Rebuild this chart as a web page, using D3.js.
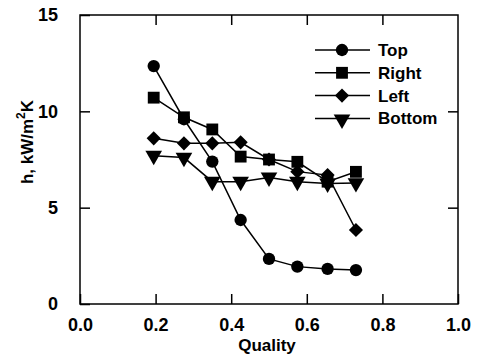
<!DOCTYPE html>
<html>
<head>
<meta charset="utf-8">
<script src="https://cdn.jsdelivr.net/npm/d3@7"></script>
<style>
  body { margin: 0; background: #fff; }
  text { font-family: "Liberation Sans", Arial, Helvetica, sans-serif; font-weight: bold; fill: #000; }
</style>
</head>
<body>
<div id="chart"></div>
<script>
"use strict";

// quality values shared by all series
var quality = [0.195, 0.275, 0.35, 0.425, 0.50, 0.575, 0.655, 0.73];

// heat transfer coefficient, kW/m2K
var topVals    = [12.35, 9.59, 7.39, 4.36, 2.34, 1.94, 1.82, 1.76];
var rightVals  = [10.71, 9.69, 9.06, 7.65, 7.5, 7.38, 6.35, 6.86];
var leftVals   = [8.6, 8.34, 8.34, 8.39, 7.5, 6.87, 6.69, 3.84];
var bottomVals = [7.7, 7.6, 6.35, 6.35, 6.57, 6.35, 6.26, 6.28];

var seriesNames = ["Top", "Right", "Left", "Bottom"];
var xTicks = [0.0, 0.2, 0.4, 0.6, 0.8, 1.0];
var yTicks = [0, 5, 10, 15];

var W = 479, H = 359;
var margin = {top: 15, right: 21, bottom: 55, left: 80};
var width = W - margin.left - margin.right;
var height = H - margin.top - margin.bottom;

var svg = d3.select("#chart").append("svg")
    .attr("width", W)
    .attr("height", H);

var g = svg.append("g")
    .attr("transform", "translate(" + margin.left + "," + margin.top + ")");

var x = d3.scaleLinear().domain([0, 1]).range([0, width]);
var y = d3.scaleLinear().domain([0, 15]).range([height, 0]);

// frame
g.append("rect")
    .attr("width", width)
    .attr("height", height)
    .attr("fill", "none")
    .attr("stroke", "#000")
    .attr("stroke-width", 1.5);

// ticks, inward on all four sides
var tickLen = 10;
function styleAxis(sel) {
  sel.select(".domain").remove();
  sel.selectAll(".tick line").attr("stroke", "#000").attr("stroke-width", 1.5);
  sel.selectAll("text").style("font-size", "18px");
}

g.append("g")
    .attr("transform", "translate(0," + height + ")")
    .call(d3.axisBottom(x).tickValues(xTicks).tickFormat(d3.format(".1f"))
      .tickSizeInner(-tickLen).tickPadding(tickLen + 4))
    .call(styleAxis);

g.append("g")
    .call(d3.axisLeft(y).tickValues(yTicks).tickFormat(d3.format("d"))
      .tickSizeInner(-tickLen).tickPadding(tickLen + 12))
    .call(styleAxis);

g.append("g")
    .call(d3.axisTop(x).tickValues(xTicks.slice(1, -1)).tickFormat("")
      .tickSizeInner(-tickLen))
    .call(styleAxis);

g.append("g")
    .attr("transform", "translate(" + width + ",0)")
    .call(d3.axisRight(y).tickValues(yTicks.slice(1, -1)).tickFormat("")
      .tickSizeInner(-tickLen))
    .call(styleAxis);

// axis titles
svg.append("text")
    .attr("x", margin.left + x(0.5) - 2)
    .attr("y", 351)
    .attr("text-anchor", "middle")
    .style("font-size", "17px")
    .text("Quality");

var ylab = svg.append("text")
    .attr("transform", "translate(33,142) rotate(-90)")
    .attr("text-anchor", "middle")
    .style("font-size", "17px");
ylab.append("tspan").text("h, kW/m");
ylab.append("tspan").attr("dy", -8).style("font-size", "12px").text("2");
ylab.append("tspan").attr("dy", 8).text("K");

// series
var series = [
  {name: seriesNames[0], values: topVals, sym: d3.symbolCircle, size: 120, rot: 0},
  {name: seriesNames[1], values: rightVals, sym: d3.symbolSquare, size: 140, rot: 0},
  {name: seriesNames[2], values: leftVals, sym: d3.symbolSquare, size: 100, rot: 45},
  {name: seriesNames[3], values: bottomVals, sym: d3.symbolTriangle, size: 120, rot: 180}
];

var line = d3.line()
    .x(function(d, i) { return x(quality[i]); })
    .y(function(d) { return y(d); });

function symbolPath(s) {
  return d3.symbol().type(s.sym).size(s.size)();
}

series.forEach(function(s) {
  g.append("path")
      .attr("d", line(s.values))
      .attr("fill", "none")
      .attr("stroke", "#000")
      .attr("stroke-width", 1.5);

  g.selectAll(null)
      .data(s.values)
      .enter().append("path")
      .attr("d", symbolPath(s))
      .attr("transform", function(d, i) {
        return "translate(" + x(quality[i]) + "," + y(d) + ") rotate(" + s.rot + ")";
      })
      .attr("fill", "#000");
});

// legend
var legend = svg.append("g").attr("transform", "translate(315,50)");
series.forEach(function(s, i) {
  var row = legend.append("g").attr("transform", "translate(0," + (i * 22.8) + ")");
  row.append("line")
      .attr("x1", 0).attr("x2", 55)
      .attr("stroke", "#000").attr("stroke-width", 1.5);
  row.append("path")
      .attr("d", symbolPath(s))
      .attr("transform", "translate(27," + (s.rot === 180 ? 1 : 0) + ") rotate(" + s.rot + ")")
      .attr("fill", "#000");
  row.append("text")
      .attr("x", 63)
      .attr("y", 6)
      .style("font-size", "17px")
      .text(s.name);
});
</script>
</body>
</html>
